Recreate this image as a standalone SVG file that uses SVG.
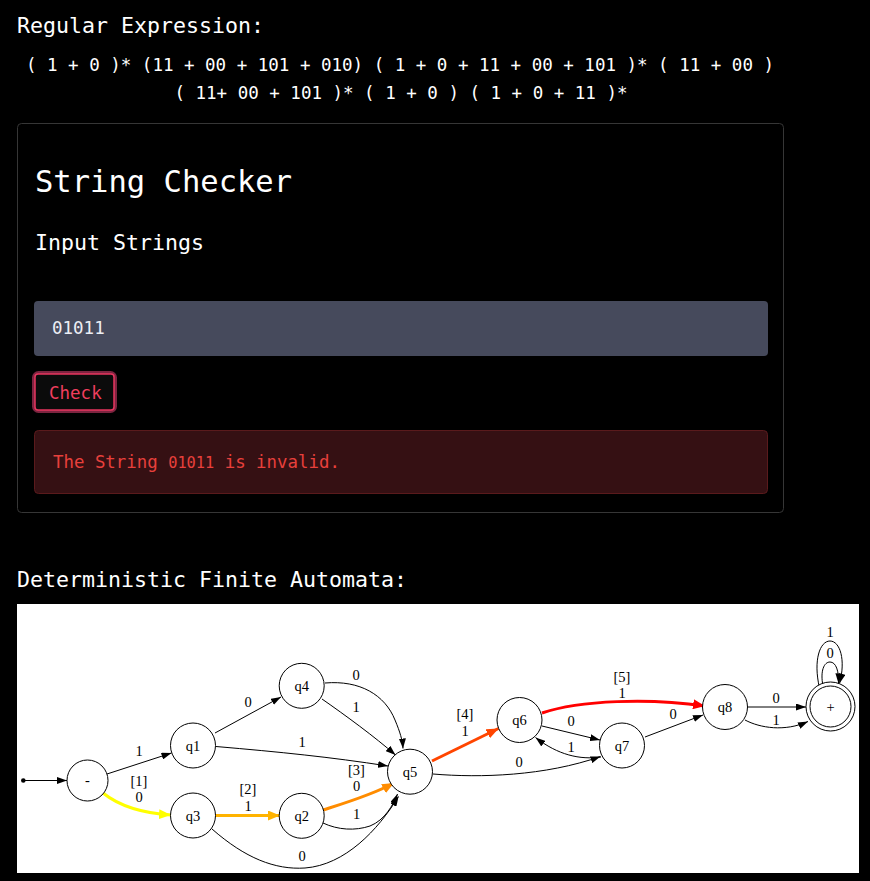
<svg xmlns="http://www.w3.org/2000/svg" width="870" height="881" viewBox="0 0 870 881">
<style>
.mono{font-family:"DejaVu Sans Mono","Liberation Mono",monospace}
.hd{font-size:21.6px;fill:#ffffff}
.rx{font-size:17.5px;fill:#ffffff}
.nd{fill:#ffffff;stroke:#000000;stroke-width:1}
.nt{font-family:"Liberation Serif","Times New Roman",serif;font-size:14.5px;fill:#000000;text-anchor:middle}
.el{font-family:"Liberation Serif","Times New Roman",serif;font-size:14.5px;fill:#000000;text-anchor:middle}
.e{fill:none;stroke:#000000;stroke-width:1;marker-end:url(#ab)}
.cy{fill:none;stroke:#ffff00;stroke-width:3;marker-end:url(#ay)}
.cg{fill:none;stroke:#ffb300;stroke-width:3;marker-end:url(#ag)}
.co{fill:none;stroke:#ff8c00;stroke-width:3;marker-end:url(#ao)}
.cr{fill:none;stroke:#ff4500;stroke-width:3;marker-end:url(#ar)}
.cd{fill:none;stroke:#ff0000;stroke-width:3;marker-end:url(#ad)}
</style>
<defs>
<marker id="ab" markerUnits="userSpaceOnUse" markerWidth="10" markerHeight="7" refX="10" refY="3.5" orient="auto"><path d="M0,0 L10,3.5 L0,7 z" fill="#000000"/></marker>
<marker id="ay" markerUnits="userSpaceOnUse" markerWidth="12" markerHeight="10" refX="12" refY="5" orient="auto"><path d="M0,0 L12,5 L0,10 z" fill="#ffff00"/></marker>
<marker id="ag" markerUnits="userSpaceOnUse" markerWidth="12" markerHeight="10" refX="12" refY="5" orient="auto"><path d="M0,0 L12,5 L0,10 z" fill="#ffb300"/></marker>
<marker id="ao" markerUnits="userSpaceOnUse" markerWidth="12" markerHeight="10" refX="12" refY="5" orient="auto"><path d="M0,0 L12,5 L0,10 z" fill="#ff8c00"/></marker>
<marker id="ar" markerUnits="userSpaceOnUse" markerWidth="12" markerHeight="10" refX="12" refY="5" orient="auto"><path d="M0,0 L12,5 L0,10 z" fill="#ff4500"/></marker>
<marker id="ad" markerUnits="userSpaceOnUse" markerWidth="12" markerHeight="10" refX="12" refY="5" orient="auto"><path d="M0,0 L12,5 L0,10 z" fill="#ff0000"/></marker>
</defs>
<rect x="0" y="0" width="870" height="881" fill="#000000"/>

<g id="header">
<text class="mono hd" x="17" y="33">Regular Expression:</text>
<text class="mono rx" x="400" y="71" text-anchor="middle">( 1 + 0 )* (11 + 00 + 101 + 010) ( 1 + 0 + 11 + 00 + 101 )* ( 11 + 00 )</text>
<text class="mono rx" x="401" y="99" text-anchor="middle">( 11+ 00 + 101 )* ( 1 + 0 ) ( 1 + 0 + 11 )*</text>
</g>

<g id="checker">
<rect x="17.5" y="123.5" width="766" height="389" rx="4" fill="#000000" stroke="#363636" stroke-width="1"/>
<text class="mono" x="35" y="192" font-size="30.5" fill="#ffffff">String Checker</text>
<text class="mono" x="35" y="250" font-size="21.6" fill="#ffffff">Input Strings</text>
<g id="input">
<rect x="34" y="301" width="734" height="55" rx="4" fill="#464a5c"/>
<text class="mono" x="52" y="334" font-size="17.5" fill="#eceef4">01011</text>
</g>
<g id="check-btn">
<rect x="33.5" y="372.5" width="82" height="39" rx="5" fill="none" stroke="#7d2440" stroke-width="3"/>
<rect x="35" y="374" width="79" height="36" rx="3" fill="#0b0b0b" stroke="#e8365f" stroke-width="1.5"/>
<text class="mono" x="49" y="399" font-size="17.5" fill="#f03e5e">Check</text>
</g>
<g id="alert">
<rect x="34.5" y="430.5" width="733" height="63" rx="4" fill="#351013" stroke="#5a1a1c" stroke-width="1"/>
<text class="mono" x="53" y="468" font-size="17.4" fill="#e8403c">The String <tspan font-size="15.3">01011</tspan> is invalid.</text>
</g>
</g>

<text class="mono hd" x="17" y="587">Deterministic Finite Automata:</text>

<rect id="dfa-panel" x="17" y="604" width="842" height="269" fill="#ffffff"/>

<g id="connectors">
<circle cx="23.3" cy="780.5" r="2.3" fill="#000000"/>
<path class="e" d="M23,780.5 L67,780.5"/>
<path class="e" d="M107,774 L171.5,753"/>
<text class="el" x="139" y="756">1</text>
<path class="cy" d="M103,793 C118,805 140,813 171,815"/>
<text class="el" x="139" y="786">[1]</text>
<text class="el" x="139" y="801.5">0</text>
<path class="e" d="M215,733 L281,697"/>
<text class="el" x="248" y="706.5">0</text>
<path class="e" d="M216,746.5 C280,752 330,757 388,766"/>
<text class="el" x="302" y="746.5">1</text>
<path class="cg" d="M215,815.5 L280,815.5"/>
<text class="el" x="248" y="794">[2]</text>
<text class="el" x="248" y="810.5">1</text>
<path class="e" d="M212,829 C245,858 275,870 305,868 C345,865 378,830 398.5,796.5"/>
<text class="el" x="302" y="861">0</text>
<path class="co" d="M323,810 C345,803 372,795 394,783"/>
<text class="el" x="356.5" y="775">[3]</text>
<text class="el" x="356.5" y="791">0</text>
<path class="e" d="M323,823 C338,830 355,831 370,826 C385,820 393,805 397.5,794"/>
<text class="el" x="356.5" y="819">1</text>
<path class="e" d="M325,683 C360,680 385,695 395,720 C400,732 402.5,740 403,748.5"/>
<text class="el" x="356" y="680">0</text>
<path class="e" d="M322,699 C345,715 375,737 395.5,755"/>
<text class="el" x="356" y="712">1</text>
<path class="cr" d="M432,761 L498.5,728.5"/>
<text class="el" x="465" y="719">[4]</text>
<text class="el" x="465" y="736">1</text>
<path class="e" d="M433,774 C480,778 545,776 600.5,756.5"/>
<text class="el" x="519" y="766.5">0</text>
<path class="e" d="M542,726 L600,740"/>
<text class="el" x="571" y="725.5">0</text>
<path class="e" d="M601,757 C580,760 558,755 535.5,737.5"/>
<text class="el" x="571" y="751.5">1</text>
<path class="cd" d="M542,713 C580,700 650,698 705,706"/>
<text class="el" x="622" y="681.5">[5]</text>
<text class="el" x="622" y="698">1</text>
<path class="e" d="M645,737 L703,715"/>
<text class="el" x="673" y="719">0</text>
<path class="e" d="M748,707 L806,707"/>
<text class="el" x="776" y="702.5">0</text>
<path class="e" d="M745,720 C760,728 785,732 808,721.5"/>
<text class="el" x="776" y="725">1</text>
<path class="e" d="M823,686 C820,671 824,662 830,662 C836,662 839,671 838.5,683.5"/>
<text class="el" x="830" y="657.5">0</text>
<path class="e" d="M819.5,688 C813,660 820,641 830,641 C840,641 846,660 839.5,683.5"/>
<text class="el" x="830" y="636.5">1</text>
</g>

<g id="node-start"><circle class="nd" cx="87.5" cy="780.5" r="20.5"/><text class="nt" x="87.5" y="785">-</text></g>
<g id="node-q1"><circle class="nd" cx="193" cy="745.5" r="22.5"/><text class="nt" x="193" y="750.5">q1</text></g>
<g id="node-q3"><circle class="nd" cx="193" cy="815.5" r="22.5"/><text class="nt" x="193" y="820.5">q3</text></g>
<g id="node-q4"><circle class="nd" cx="301.7" cy="685.8" r="22.5"/><text class="nt" x="301.7" y="690.8">q4</text></g>
<g id="node-q2"><circle class="nd" cx="301.7" cy="815.8" r="22.5"/><text class="nt" x="301.7" y="820.8">q2</text></g>
<g id="node-q5"><circle class="nd" cx="410" cy="771.7" r="22.5"/><text class="nt" x="410" y="776.7">q5</text></g>
<g id="node-q6"><circle class="nd" cx="519.5" cy="720" r="22.5"/><text class="nt" x="519.5" y="725">q6</text></g>
<g id="node-q7"><circle class="nd" cx="622" cy="745.5" r="22.5"/><text class="nt" x="622" y="750.5">q7</text></g>
<g id="node-q8"><circle class="nd" cx="725" cy="707" r="22.5"/><text class="nt" x="725" y="712">q8</text></g>
<g id="node-accept"><circle class="nd" cx="830.5" cy="706.5" r="24.5"/><circle class="nd" cx="830.5" cy="706.5" r="20.5"/><text class="nt" x="830.5" y="711.5">+</text></g>
</svg>
